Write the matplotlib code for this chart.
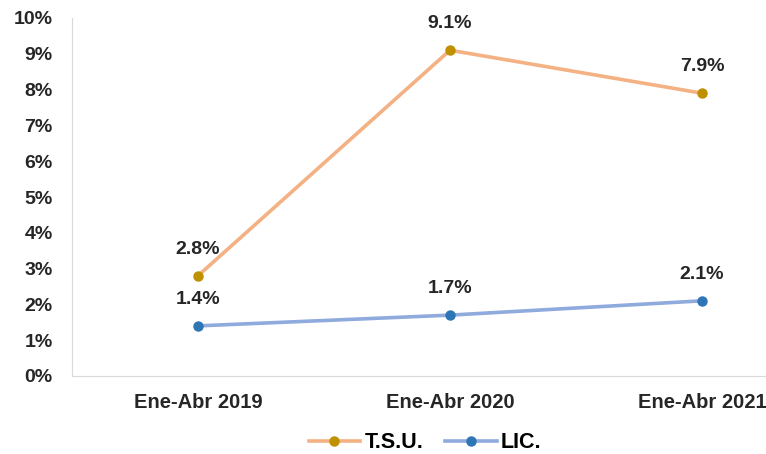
import matplotlib.pyplot as plt
from matplotlib.ticker import FuncFormatter

# Datos
periodos = ['Ene-Abr 2019', 'Ene-Abr 2020', 'Ene-Abr 2021']
tsu = [2.8, 9.1, 7.9]
lic = [1.4, 1.7, 2.1]

plt.rcParams['font.family'] = ['Liberation Sans', 'DejaVu Sans']
plt.rcParams['font.weight'] = 'bold'

fig = plt.figure(figsize=(7.66, 4.54), dpi=100)
ax = fig.add_axes([72 / 766, 1 - 376 / 454, 1 - 72 / 766, (376 - 18) / 454])

x = range(len(periodos))
ax.plot(x, tsu, color='#F4B183', linewidth=2.6, marker='o', markersize=6.5,
        markerfacecolor='#BF9000', markeredgecolor='#BF9000', label='T.S.U.')
ax.plot(x, lic, color='#8FAADC', linewidth=2.6, marker='o', markersize=6.5,
        markerfacecolor='#2E75B6', markeredgecolor='#2E75B6', label='LIC.')

for serie in (tsu, lic):
    for i, v in enumerate(serie):
        ax.annotate(f'{v:.1f}%', (i, v), xytext=(0, 13), textcoords='offset points',
                    ha='center', va='bottom', fontsize=14, fontweight='bold', color='#262626')

ax.set_xlim(-0.5, (766 - 198) / 252)
ax.set_ylim(0, 10)
ax.set_yticks(range(0, 11))
ax.yaxis.set_major_formatter(FuncFormatter(lambda v, p: f'{v:.0f}%'))
ax.set_xticks(list(x))
ax.set_xticklabels(periodos)
ax.tick_params(axis='y', length=0, labelsize=14, colors='#262626', pad=14)
ax.tick_params(axis='x', length=0, labelsize=14.5, colors='#262626', pad=12)

for s in ['top', 'right']:
    ax.spines[s].set_visible(False)
ax.spines['left'].set_color('#D9D9D9')
ax.spines['bottom'].set_color('#D9D9D9')

fig.legend(loc='center', bbox_to_anchor=(425 / 766, 1 - 443 / 454), ncol=2, frameon=False,
           fontsize=15.5, handlelength=2.4, columnspacing=1.0, handletextpad=0.2)

fig.savefig('out.png', dpi=100)
